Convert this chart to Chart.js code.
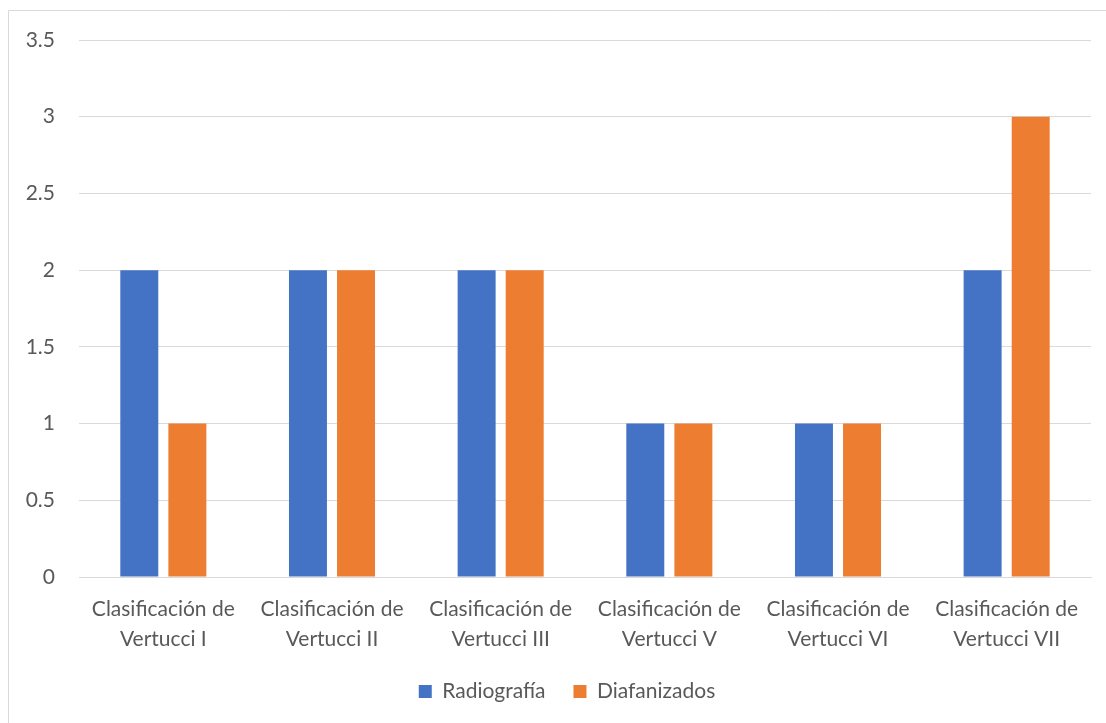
<!DOCTYPE html>
<html>
<head>
<meta charset="utf-8">
<script src="https://cdn.jsdelivr.net/npm/chart.js@4"></script>
<style>
  html, body { margin: 0; padding: 0; background: #fff; }
  #wrap { position: relative; width: 1106px; height: 723px; }
</style>
</head>
<body>
<div id="wrap"><canvas id="c" width="1106" height="723"></canvas></div>
<script>
const categories = [
  ["Clasificación de", "Vertucci I"],
  ["Clasificación de", "Vertucci II"],
  ["Clasificación de", "Vertucci III"],
  ["Clasificación de", "Vertucci V"],
  ["Clasificación de", "Vertucci VI"],
  ["Clasificación de", "Vertucci VII"]
];
const radiografia = [2, 2, 2, 1, 1, 2];
const diafanizados = [1, 2, 2, 1, 1, 3];

const FONT = "Lato, 'Open Sans', sans-serif";
const TEXT = "#595959";
const SIZE = 21;

// thin frame around the chart area (left and top edges visible)
const frame = {
  id: 'frame',
  beforeDraw(chart) {
    const ctx = chart.ctx;
    ctx.save();
    ctx.fillStyle = '#fff';
    ctx.fillRect(0, 0, chart.width, chart.height);
    ctx.strokeStyle = '#d9d9d9';
    ctx.lineWidth = 1;
    ctx.beginPath();
    ctx.moveTo(8.5, 723);
    ctx.lineTo(8.5, 10.5);
    ctx.lineTo(1106, 10.5);
    ctx.stroke();
    ctx.restore();
  }
};

// nudge the legend so it sits a little right of the canvas centre
const legendShift = {
  id: 'legendShift',
  afterLayout(chart) {
    const lg = chart.legend;
    if (lg) { lg.left += 17; lg.right += 17; }
  }
};

new Chart(document.getElementById('c'), {
  type: 'bar',
  data: {
    labels: categories,
    datasets: [
      { label: 'Radiografía', data: radiografia, backgroundColor: '#4472C4',
        categoryPercentage: 0.57, barPercentage: 0.79 },
      { label: 'Diafanizados', data: diafanizados, backgroundColor: '#ED7D31',
        categoryPercentage: 0.57, barPercentage: 0.79 }
    ]
  },
  options: {
    responsive: false,
    animation: false,
    layout: { padding: { left: 9, top: 40, right: 15, bottom: 11 } },
    plugins: {
      tooltip: { enabled: false },
      legend: {
        position: 'bottom',
        labels: {
          color: TEXT,
          font: { family: FONT, size: SIZE },
          boxWidth: 13,
          boxHeight: 13,
          padding: 28
        }
      }
    },
    scales: {
      x: {
        afterFit(scale) { scale.height = 76; },
        grid: { display: false, drawTicks: false },
        border: { display: true, color: '#d9d9d9', width: 1 },
        ticks: {
          color: TEXT,
          font: { family: FONT, size: SIZE, lineHeight: 1.4 },
          padding: 18,
          maxRotation: 0,
          autoSkip: false
        }
      },
      y: {
        min: 0,
        max: 3.5,
        afterFit(scale) { scale.width = 70; },
        grid: { color: '#d9d9d9', drawTicks: false },
        border: { display: false },
        ticks: {
          stepSize: 0.5,
          color: TEXT,
          font: { family: FONT, size: SIZE },
          padding: 24,
          callback: v => String(v)
        }
      }
    }
  },
  plugins: [frame, legendShift]
});
</script>
</body>
</html>
